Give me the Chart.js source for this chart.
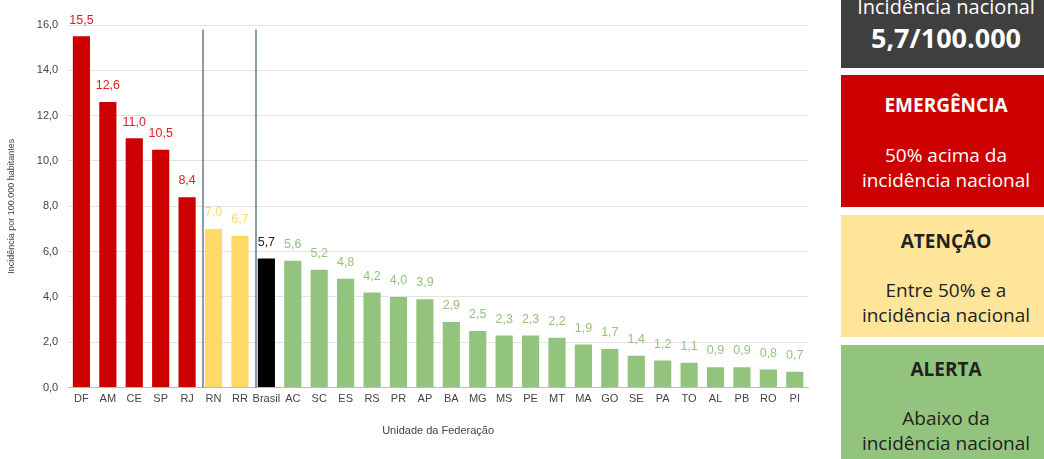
<!DOCTYPE html>
<html>
<head>
<meta charset="utf-8">
<script src="https://cdn.jsdelivr.net/npm/chart.js@4.4.0/dist/chart.umd.min.js"></script>
<style>
body { margin: 0; width: 1044px; height: 459px; overflow: hidden; background: #fff; position: relative; font-family: "Open Sans", "Noto Sans", sans-serif; }
#wrap { position: absolute; left: 0; top: 0; width: 830px; height: 459px; }
.box { position: absolute; left: 841px; width: 210px; text-align: center; }
.box .t { position: absolute; left: 0; right: 0; font-weight: bold; }
.box .s { position: absolute; left: 0; right: 0; font-size: 19px; line-height: 25px; }
</style>
</head>
<body>
<div id="wrap"><canvas id="grafico"></canvas></div>

<div class="box" style="top:-10px;height:78px;background:#3f3f3f;color:#fff;">
  <div class="s" style="top:4px;font-size:20px;">Incidência nacional</div>
  <div class="t" style="top:31px;font-size:27px;line-height:34px;">5,7/100.000</div>
</div>
<div class="box" style="top:75px;height:132px;background:#cc0000;color:#fff;">
  <div class="t" style="top:17px;font-size:19px;line-height:26px;">EMERGÊNCIA</div>
  <div class="s" style="top:68px;">50% acima da<br>incidência nacional</div>
</div>
<div class="box" style="top:215px;height:122px;background:#ffe599;color:#222;">
  <div class="t" style="top:13px;font-size:19px;line-height:26px;">ATENÇÃO</div>
  <div class="s" style="top:63px;">Entre 50% e a<br>incidência nacional</div>
</div>
<div class="box" style="top:345px;height:130px;background:#93c47d;color:#222;">
  <div class="t" style="top:11px;font-size:19px;line-height:26px;">ALERTA</div>
  <div class="s" style="top:61px;">Abaixo da<br>incidência nacional</div>
</div>

<script>
var estados = ['DF', 'AM', 'CE', 'SP', 'RJ', 'RN', 'RR', 'Brasil', 'AC', 'SC', 'ES', 'RS', 'PR', 'AP',
    'BA', 'MG', 'MS', 'PE', 'MT', 'MA', 'GO', 'SE', 'PA', 'TO', 'AL', 'PB', 'RO', 'PI'];
var incidencia = [15.5, 12.6, 11.0, 10.5, 8.4, 7.0, 6.7, 5.7, 5.6, 5.2, 4.8, 4.2, 4.0, 3.9,
    2.9, 2.5, 2.3, 2.3, 2.2, 1.9, 1.7, 1.4, 1.2, 1.1, 0.9, 0.9, 0.8, 0.7];
var nivel = ['E', 'E', 'E', 'E', 'E', 'A', 'A', 'N', 'L', 'L', 'L', 'L', 'L', 'L',
    'L', 'L', 'L', 'L', 'L', 'L', 'L', 'L', 'L', 'L', 'L', 'L', 'L', 'L'];
var divisorias = [4.5, 6.5];

var coresNivel = { E: '#cc0000', A: '#ffd966', N: '#000000', L: '#93c47d' };
var coresTexto = { E: '#e02020', A: '#ffd966', N: '#222222', L: '#93c47d' };

function virgula(v) {
    return v.toFixed(1).replace('.', ',');
}

// rotulos em cima das barras
var rotulos = {
    id: 'rotulos',
    afterDatasetsDraw: function (chart) {
        var ctx = chart.ctx;
        var meta = chart.getDatasetMeta(0);
        ctx.save();
        ctx.font = '12.5px "Liberation Sans", Arial, sans-serif';
        ctx.textAlign = 'center';
        ctx.textBaseline = 'bottom';
        meta.data.forEach(function (bar, i) {
            ctx.fillStyle = coresTexto[nivel[i]];
            ctx.fillText(virgula(incidencia[i]), bar.x, bar.y - 10);
        });
        ctx.restore();
    }
};

// linhas verticais separando os grupos
var linhas = {
    id: 'linhas',
    afterDatasetsDraw: function (chart) {
        var ctx = chart.ctx;
        var x = chart.scales.x, y = chart.scales.y;
        ctx.save();
        ctx.strokeStyle = '#3d5a73';
        ctx.lineWidth = 1.2;
        divisorias.forEach(function (d) {
            var px = Math.round(x.getPixelForValue(d)) + 3;
            ctx.beginPath();
            ctx.moveTo(px, y.getPixelForValue(15.8));
            ctx.lineTo(px, y.getPixelForValue(0));
            ctx.stroke();
        });
        ctx.restore();
    }
};

var ctx = document.getElementById('grafico');
new Chart(ctx, {
    type: 'bar',
    data: {
        labels: estados,
        datasets: [{
            label: 'Incidência',
            data: incidencia,
            backgroundColor: nivel.map(function (n) { return coresNivel[n]; }),
            barPercentage: 0.65,
            categoryPercentage: 1.0
        }]
    },
    options: {
        responsive: true,
        maintainAspectRatio: false,
        animation: false,
        layout: { padding: { top: 25, right: 22, bottom: 17, left: 2 } },
        plugins: {
            legend: { display: false },
            tooltip: { enabled: false }
        },
        scales: {
            x: {
                grid: { display: false, drawTicks: false },
                border: { color: '#bbbbbb' },
                ticks: {
                    color: '#444',
                    font: { family: '"Liberation Sans", Arial, sans-serif', size: 11 },
                    maxRotation: 0,
                    autoSkip: false,
                    padding: 5
                },
                title: {
                    display: true,
                    text: 'Unidade da Federação',
                    color: '#444',
                    font: { family: '"Liberation Sans", Arial, sans-serif', size: 11 },
                    padding: { top: 14 }
                }
            },
            y: {
                min: 0,
                max: 16,
                grid: { color: '#e3e3e3', drawTicks: false },
                border: { display: false },
                ticks: {
                    stepSize: 2,
                    color: '#444',
                    padding: 10,
                    font: { family: '"Liberation Sans", Arial, sans-serif', size: 11 },
                    callback: function (v) { return virgula(v); }
                },
                title: {
                    display: true,
                    text: 'Incidência por 100.000 habitantes',
                    color: '#444',
                    font: { family: '"Liberation Sans", Arial, sans-serif', size: 9 },
                    padding: { bottom: 10 }
                }
            }
        }
    },
    plugins: [rotulos, linhas]
});
</script>
</body>
</html>
